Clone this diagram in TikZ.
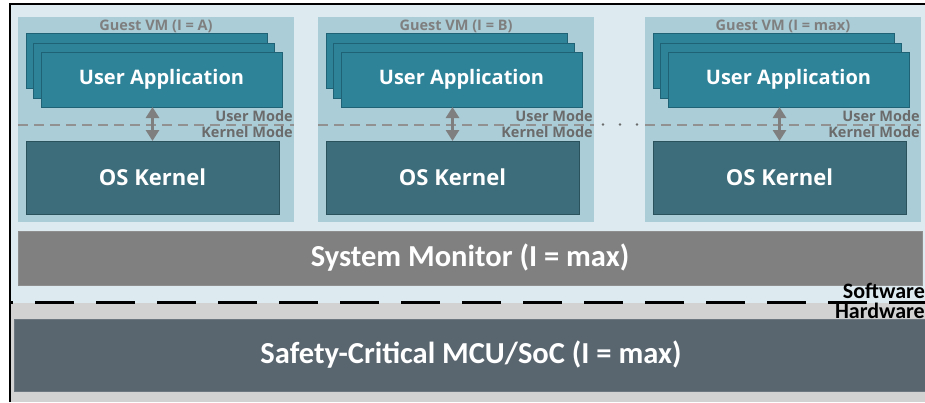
\documentclass[tikz,border=0pt]{standalone}
\usepackage{fontspec}
\setmainfont{Carlito}
\newfontfamily\vmfont{Open Sans}
\usetikzlibrary{arrows.meta}

\definecolor{bgblue}{HTML}{DDEBF0}
\definecolor{vmfill}{HTML}{AACDD7}
\definecolor{appfill}{HTML}{2E8399}
\definecolor{appdraw}{HTML}{1F6276}
\definecolor{kernfill}{HTML}{3D6D7A}
\definecolor{kerndraw}{HTML}{2A525D}
\definecolor{monfill}{HTML}{808080}
\definecolor{mondraw}{HTML}{8E8E8E}
\definecolor{socfill}{HTML}{59656F}
\definecolor{socdraw}{HTML}{6C7780}
\definecolor{hwgray}{HTML}{D2D2D2}
\definecolor{labelgray}{HTML}{7F7F7F}
\definecolor{modegray}{HTML}{6B6B6B}
\definecolor{modeline}{HTML}{919191}

\tikzset{
  box/.style={rectangle, inner sep=0pt, outer sep=0pt},
  vmbox/.style={box, fill=vmfill, minimum width=276pt, minimum height=205pt},
  appbox/.style={box, fill=appfill, draw=appdraw, line width=1pt,
    minimum width=241pt, minimum height=55pt, text=white,
    font=\vmfont\bfseries\fontsize{20}{24}\selectfont},
  kernbox/.style={box, fill=kernfill, draw=kerndraw, line width=1pt,
    minimum width=253pt, minimum height=73pt, text=white,
    font=\vmfont\bfseries\fontsize{22}{26}\selectfont},
  vmlabel/.style={inner sep=0pt, text=labelgray,
    font=\vmfont\bfseries\fontsize{14.5}{16}\selectfont},
  modelabel/.style={inner sep=0pt, anchor=east, text=modegray,
    font=\vmfont\bfseries\fontsize{14.5}{16}\selectfont},
  modesplit/.style={draw=modeline, line width=1.5pt, dash pattern=on 10pt off 6pt},
  modearrow/.style={draw=labelgray, line width=3.5pt,
    {Triangle[width=13pt,length=11pt]}-{Triangle[width=13pt,length=11pt]}},
  layerbox/.style={box, text=white, font=\bfseries\fontsize{30.5}{34}\selectfont},
  hwsplit/.style={draw=black, line width=2.5pt, dash pattern=on 39pt off 22pt, dash phase=36pt},
  sidelabel/.style={inner sep=0pt, text=black, font=\bfseries\fontsize{22}{24}\selectfont},
}

\begin{document}
\begin{tikzpicture}[x=1pt, y=-1pt]
\useasboundingbox (0,0) rectangle (925,402);
\clip (0,0) rectangle (925,402);
\fill[white] (0,0) rectangle (925,402);

% software and hardware backgrounds
\fill[bgblue] (10,4) rectangle (925,302.5);
\fill[hwgray] (10,302.5) rectangle (925,402);

% guest virtual machines
\foreach \dx/\lab/\n in {0/A/a, 300/B/b, 627/max/c} {
  \node[vmbox] (vm\n) at (156+\dx, 119.5) {};
  \node[vmlabel] (vmlab\n) at (156+\dx, 26) {Guest VM (I = \lab)};
  \node[appbox] (appback\n) at (146.5+\dx, 61) {};
  \node[appbox] (appmid\n) at (153.5+\dx, 70.5) {};
  \node[appbox] (app\n) at (161.5+\dx, 79.5) {User Application};
  \node[kernbox] (kern\n) at (152.5+\dx, 177.5) {OS Kernel};
  \coordinate (ml\n) at (18+\dx, 125);
  \coordinate (mr\n) at (294+\dx, 125);
  \draw[modesplit] (ml\n) -- (mr\n);
  \node[modelabel] (um\n) at (293+\dx, 116) {User Mode};
  \node[modelabel] (km\n) at (293+\dx, 132.5) {Kernel Mode};
  \draw[modearrow] (kern\n.north) -- (kern\n.north |- app\n.south);
}

% ellipsis between the second and the last guest
\foreach \x in {603, 620, 637} \fill[modegray] (\x,124.5) circle (1.3pt);

% monitor and hardware layers
\node[layerbox, fill=monfill, draw=mondraw, line width=1pt,
  minimum width=904pt, minimum height=54pt] (mon) at (470,258) {System Monitor (I = max)};
\node[layerbox, fill=socfill, draw=socdraw, line width=1pt,
  minimum width=913pt, minimum height=72pt] (soc) at (471,355) {Safety-Critical MCU/SoC (I = max)};

% software / hardware boundary
\coordinate (hwl) at (10,302.5);
\coordinate (hwr) at (925,302.5);
\draw[hwsplit] (hwl) -- (hwr);
\node[sidelabel, anchor=base east] (sw) at (925,298) {Software};
\node[sidelabel, anchor=base east] (hw) at (925,318) {Hardware};

% outer frame
\draw[black, line width=2.5pt] (10,402) -- (10,4) -- (925,4);
\end{tikzpicture}
\end{document}
